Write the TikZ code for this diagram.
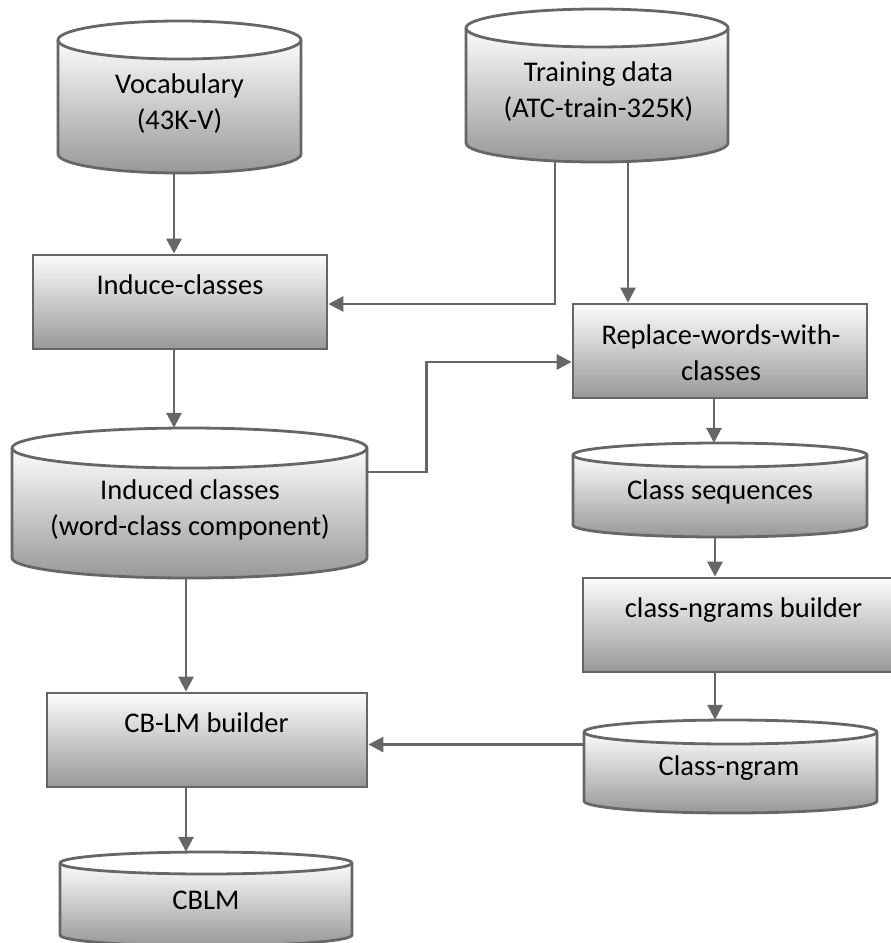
\documentclass[tikz,border=0pt]{standalone}
\usepackage{fontspec}
\setmainfont{Carlito}
\usetikzlibrary{arrows.meta}
\definecolor{lg}{RGB}{102,102,102}
\definecolor{shadebot}{RGB}{152,152,152}
\definecolor{shadetop}{RGB}{252,252,252}
\tikzset{
  boxshape/.style={draw=lg, line width=2.8pt, top color=shadetop, bottom color=shadebot, inner sep=0pt},
  cylbody/.style={top color=shadetop, bottom color=shadebot},
  cylline/.style={draw=lg, line width=2.8pt, line join=round},
  cylframe/.style={inner sep=0pt, draw=none},
  lbl/.style={font=\fontsize{28.5}{36}\selectfont, align=center, inner sep=0pt, text=black},
  conn/.style={draw=lg, line width=2.8pt, -{Triangle[length=15pt,width=15pt]}},
}
% #1 name, #2 left x, #3 right x, #4 top y, #5 bottom y, #6 y radius (pixel units, y downwards)
\newcommand{\dbcyl}[6]{%
  \pgfmathsetmacro\cxa{(#2+#3)/2}%
  \pgfmathsetmacro\rxa{(#3-#2)/2}%
  \pgfmathsetmacro\tya{#4+#6}%
  \pgfmathsetmacro\bya{#5-#6}%
  \pgfmathsetmacro\cya{(#4+#5)/2}%
  \pgfmathsetmacro\wda{#3-#2}%
  \pgfmathsetmacro\hta{#5-#4}%
  \path[cylbody] (#2,-\tya) -- (#2,-\bya) arc[start angle=180,end angle=360,x radius=\rxa pt,y radius=#6pt] -- (#3,-\tya) arc[start angle=360,end angle=180,x radius=\rxa pt,y radius=#6pt] -- cycle;
  \draw[cylline] (#2,-\tya) -- (#2,-\bya) arc[start angle=180,end angle=360,x radius=\rxa pt,y radius=#6pt] -- (#3,-\tya);
  \draw[cylline, fill=white] (\cxa,-\tya) ellipse[x radius=\rxa pt,y radius=#6pt];
  \node[cylframe, minimum width=\wda pt, minimum height=\hta pt] (#1) at (\cxa,-\cya) {};
}
% #1 name, #2 left x, #3 right x, #4 top y, #5 bottom y
\newcommand{\flowbox}[5]{%
  \pgfmathsetmacro\cxa{(#2+#3)/2}%
  \pgfmathsetmacro\cya{(#4+#5)/2}%
  \pgfmathsetmacro\wda{#3-#2}%
  \pgfmathsetmacro\hta{#5-#4}%
  \node[boxshape, minimum width=\wda pt, minimum height=\hta pt] (#1) at (\cxa,-\cya) {};
}
\begin{document}
\begin{tikzpicture}[x=1pt,y=1pt]
\useasboundingbox (0,0) rectangle (891,-943);
% shapes
\dbcyl{voc}{58}{301}{21}{173}{19}
\dbcyl{train}{466}{728}{9}{162}{19}
\dbcyl{ic}{12}{367}{428}{578}{20}
\dbcyl{cs}{573}{867}{443}{537}{12}
\dbcyl{cn}{584}{877}{720}{813}{12}
\dbcyl{cblm}{60}{352}{852}{946}{11}
\flowbox{ind}{33}{327}{255}{349}
\flowbox{rep}{573}{867}{304}{398}
\flowbox{cnb}{583}{903}{578}{672}
\flowbox{cbl}{47}{367}{693}{787}
% labels
\node[lbl] (voc-t) at (179.5,-103.5) {Vocabulary\\(43K-V)};
\node[lbl] (train-t) at (598.5,-92) {Training data\\(ATC-train-325K)};
\node[lbl] (ic-t) at (190,-510) {Induced classes\\(word-class component)};
\node[lbl] (cs-t) at (720,-492) {Class sequences};
\node[lbl] (cn-t) at (729,-768) {Class-ngram};
\node[lbl] (cblm-t) at (206,-900) {CBLM};
\node[lbl] (ind-t) at (180,-285) {Induce-classes};
\node[lbl] (rep-t) at (721,-353) {Replace-words-with-\\classes};
\node[lbl] (cnb-t) at (743.5,-610) {class-ngrams builder};
\node[lbl] (cbl-t) at (206.5,-723) {CB-LM builder};
% connectors
\draw[conn] ([xshift=-5.5pt]voc.south) -- ([xshift=-5.5pt]voc.south |- ind.north);
\draw[conn] ([xshift=-42pt]train.south) |- ([yshift=-2pt]ind.east);
\draw[conn] ([xshift=31pt]train.south) -- ([xshift=31pt]train.south |- rep.north);
\draw[conn] ([xshift=-6pt]ind.south) -- ([xshift=-6pt]ind.south |- ic.north);
\draw[conn] ([yshift=31pt]ic.east) -- ++(59,0) |- ([yshift=-11pt]rep.west);
\draw[conn] ([xshift=-6pt]rep.south) -- ([xshift=-6pt]rep.south |- cs.north);
\draw[conn] ([xshift=-5pt]cs.south) -- ([xshift=-5pt]cs.south |- cnb.north);
\draw[conn] ([xshift=-5pt]cs.south |- cnb.south) -- ([xshift=-5pt]cs.south |- cn.north);
\draw[conn] ([xshift=-3.5pt]ic.south) -- ([xshift=-3.5pt]ic.south |- cbl.north);
\draw[conn] ([yshift=22pt]cn.west) -- ([yshift=22pt]cn.west -| cbl.east);
\draw[conn] ([xshift=-21pt]cbl.south) -- ([xshift=-21pt]cbl.south |- cblm.north);
\end{tikzpicture}
\end{document}
